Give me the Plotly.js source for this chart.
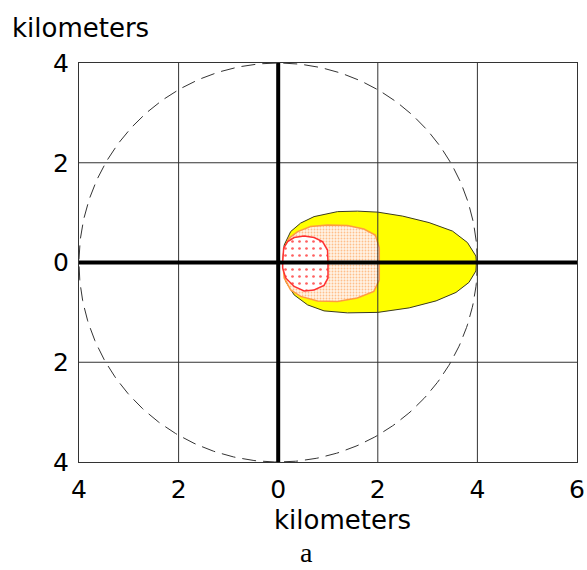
<!DOCTYPE html>
<html>
<head>
<meta charset="utf-8">
<script src="https://cdn.plot.ly/plotly-3.0.1.min.js"></script>
<style>html,body{margin:0;padding:0;background:#fff;}#chart{width:587px;height:570px;}</style>
</head>
<body>
<div id="chart"></div>
<script>
// Axis ranges and ticks (kilometers)
const xRange = [-4, 6];
const yRange = [-4, 4];
const xTickVals = [-4, -2, 0, 2, 4, 6];
const xTickText = ['4', '2', '0', '2', '4', '6'];
const yTickVals = [-4, -2, 0, 2, 4];
const yTickText = ['4', '2', '0', '2', '4'];
const gridX = [-2, 2, 4];
const gridY = [-2, 2];
const circleRadius = 4;

// Outer (yellow) zone boundary
const yellowX = [0.09, 0.12, 0.25, 0.45, 0.72, 1.19, 1.59, 2.0, 2.5, 3.03, 3.5, 3.8, 3.97, 3.98, 3.97, 3.83, 3.57, 3.17, 2.63, 2.0, 1.39, 0.92, 0.59, 0.32, 0.15, 0.09];
const yellowY = [0.0, 0.35, 0.62, 0.79, 0.92, 1.02, 1.03, 1.01, 0.93, 0.8, 0.63, 0.4, 0.13, 0.0, -0.17, -0.4, -0.6, -0.77, -0.91, -1.0, -1.01, -0.97, -0.85, -0.65, -0.38, 0.0];

// Middle (orange) zone boundary
const orangeX = [0.09, 0.12, 0.22, 0.39, 0.65, 0.99, 1.39, 1.72, 1.95, 2.03, 2.03, 1.92, 1.59, 1.19, 0.79, 0.45, 0.25, 0.12, 0.09];
const orangeY = [0.0, 0.29, 0.49, 0.62, 0.72, 0.75, 0.74, 0.67, 0.55, 0.3, -0.35, -0.58, -0.71, -0.78, -0.77, -0.68, -0.55, -0.31, 0.0];

// Inner (red) zone boundary
const redX = [0.09, 0.11, 0.19, 0.32, 0.52, 0.72, 0.89, 0.99, 1.0, 1.0, 0.92, 0.72, 0.52, 0.32, 0.15, 0.09, 0.09];
const redY = [0.0, 0.29, 0.42, 0.5, 0.53, 0.5, 0.42, 0.25, 0.0, -0.31, -0.46, -0.55, -0.57, -0.48, -0.31, -0.11, 0.0];

// grid line traces built from tick positions
const gx = [], gy = [];
gridX.forEach(v => { gx.push(v, v, null); gy.push(yRange[0], yRange[1], null); });
gridY.forEach(v => { gx.push(xRange[0], xRange[1], null); gy.push(v, v, null); });

// circle from radius
const cx = [], cy = [];
for (let i = 0; i <= 360; i++) { const a = i * Math.PI / 180; cx.push(circleRadius * Math.cos(a)); cy.push(circleRadius * Math.sin(a)); }

const traces = [
  {x: yellowX, y: yellowY, mode: 'lines', fill: 'toself', fillcolor: '#ffff00',
   line: {color: '#3a3a20', width: 1}, hoverinfo: 'skip', showlegend: false},
  {x: orangeX, y: orangeY, mode: 'lines', fill: 'toself', fillcolor: '#fff0e0',
   fillpattern: {shape: '.', fgcolor: '#ffbf8a', bgcolor: '#fff3e6', size: 3, solidity: 0.3},
   line: {color: '#ff9c40', width: 1.5}, hoverinfo: 'skip', showlegend: false},
  {x: redX, y: redY, mode: 'lines', fill: 'toself', fillcolor: '#ffffff',
   fillpattern: {shape: '.', fgcolor: '#ff6060', bgcolor: '#ffffff', size: 7, solidity: 0.12},
   line: {color: '#ff3030', width: 1.5}, hoverinfo: 'skip', showlegend: false},
  {x: gx, y: gy, mode: 'lines', line: {color: '#333333', width: 1}, hoverinfo: 'skip', showlegend: false},
  {x: cx, y: cy, mode: 'lines', line: {color: '#333333', width: 1, dash: '14px,7px'}, hoverinfo: 'skip', showlegend: false},
  {x: [xRange[0], xRange[1]], y: [0, 0], mode: 'lines', line: {color: '#000000', width: 4}, hoverinfo: 'skip', showlegend: false},
  {x: [0, 0], y: [yRange[0], yRange[1]], mode: 'lines', line: {color: '#000000', width: 4}, hoverinfo: 'skip', showlegend: false}
];

const tickFont = {family: 'DejaVu Sans, Verdana, sans-serif', size: 25, color: '#000'};
const layout = {
  width: 587, height: 570,
  margin: {l: 79, r: 10, t: 63, b: 108},
  paper_bgcolor: '#fff', plot_bgcolor: '#fff',
  showlegend: false,
  xaxis: {range: xRange, tickvals: xTickVals, ticktext: xTickText, showgrid: false, zeroline: false,
          showline: true, mirror: true, linecolor: '#333', linewidth: 1, ticks: '', tickfont: tickFont,
          ticklabelstandoff: 5, fixedrange: true},
  yaxis: {range: yRange, tickvals: yTickVals, ticktext: yTickText, showgrid: false, zeroline: false,
          showline: true, mirror: true, linecolor: '#333', linewidth: 1, ticks: '', tickfont: tickFont,
          ticklabelstandoff: 4, fixedrange: true},
  annotations: [
    {text: 'kilometers', xref: 'paper', yref: 'paper', x: (10 - 79) / 498, y: (462 - 28) / 399,
     xanchor: 'left', yanchor: 'middle', showarrow: false,
     font: {family: 'DejaVu Sans, Verdana, sans-serif', size: 26, color: '#000'}},
    {text: 'kilometers', xref: 'paper', yref: 'paper', x: (342 - 79) / 498, y: (462 - 520) / 399,
     xanchor: 'center', yanchor: 'middle', showarrow: false,
     font: {family: 'DejaVu Sans, Verdana, sans-serif', size: 26, color: '#000'}},
    {text: 'a', xref: 'paper', yref: 'paper', x: (306 - 79) / 498, y: (462 - 569) / 399,
     xanchor: 'center', yanchor: 'bottom', showarrow: false, borderpad: 0,
     font: {family: 'Liberation Serif, Times New Roman, serif', size: 28, color: '#000'}}
  ]
};

Plotly.newPlot('chart', traces, layout, {staticPlot: true, displayModeBar: false});
</script>
</body>
</html>
